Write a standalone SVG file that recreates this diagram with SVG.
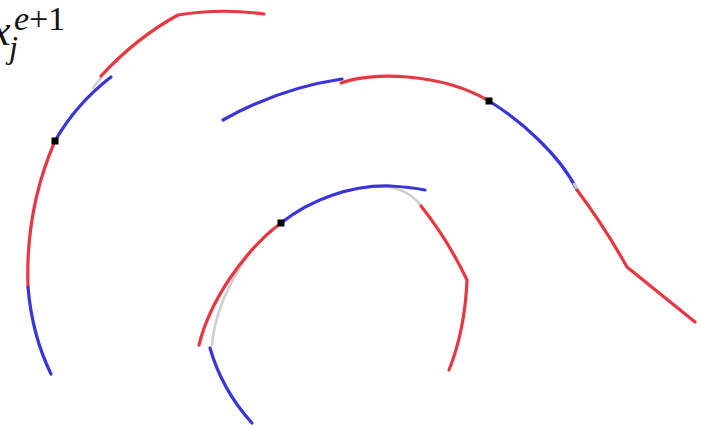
<svg xmlns="http://www.w3.org/2000/svg" width="702" height="429" viewBox="0 0 702 429">
<style>
.r{fill:none;stroke:#e63842;stroke-width:3.2;stroke-linecap:round;stroke-linejoin:round}
.b{fill:none;stroke:#3a35d6;stroke-width:3.2;stroke-linecap:round}
.g{fill:none;stroke:#cfcfcf;stroke-width:2.6;stroke-linecap:round}
.d{fill:#000}
.t{font-family:"Liberation Serif",serif;fill:#111}
</style>
<rect width="702" height="429" fill="#fff"/>
<g id="label">
<text class="t" x="-9" y="45" font-size="44" font-style="italic">x</text>
<text class="t" x="9" y="58" font-size="32" font-style="italic">j</text>
<text class="t" x="14" y="30" font-size="34"><tspan font-style="italic">e</tspan>+1</text>
</g>
<g id="connectors">
<g id="curve1">
<path class="g" d="M93,88 Q97,82 102,77"/>
<path class="r" d="M101,76 Q136,38 178,15 Q220,8 264,14"/>
<path class="b" d="M111,77 Q76,104 55,141"/>
<path class="r" d="M55,141 C38,180 26,230 28,287"/>
<path class="b" d="M28,287 Q32,335 51,374"/>
</g>
<g id="curve2">
<path class="b" d="M223,120 Q280,88 342,79"/>
<path class="r" d="M341,83 C370,72 440,72 489,101"/>
<path class="b" d="M489,101 C520,120 560,155 577,190"/>
<path class="g" d="M574,184 L580,194"/>
<path class="r" d="M577,190 Q604,226 627,267 L695,322"/>
</g>
<g id="curve3">
<path class="g" d="M273,228 C245,252 216,300 212,345"/>
<path class="g" d="M385,186 Q410,190 421,206"/>
<path class="b" d="M281,223 C310,200 350,185 390,186 Q410,187 425,190"/>
<path class="r" d="M421,206 Q448,240 467,280 Q465,330 449,370"/>
<path class="r" d="M281,223 C245,250 210,300 199,345"/>
<path class="b" d="M210,348 Q222,390 252,423"/>
</g>
</g>
<g id="dot1"><rect class="d" x="51.5" y="137.5" width="7" height="7"/></g>
<g id="dot2"><rect class="d" x="485.5" y="97.5" width="7" height="7"/></g>
<g id="dot3"><rect class="d" x="277.5" y="219.5" width="7" height="7"/></g>
</svg>
